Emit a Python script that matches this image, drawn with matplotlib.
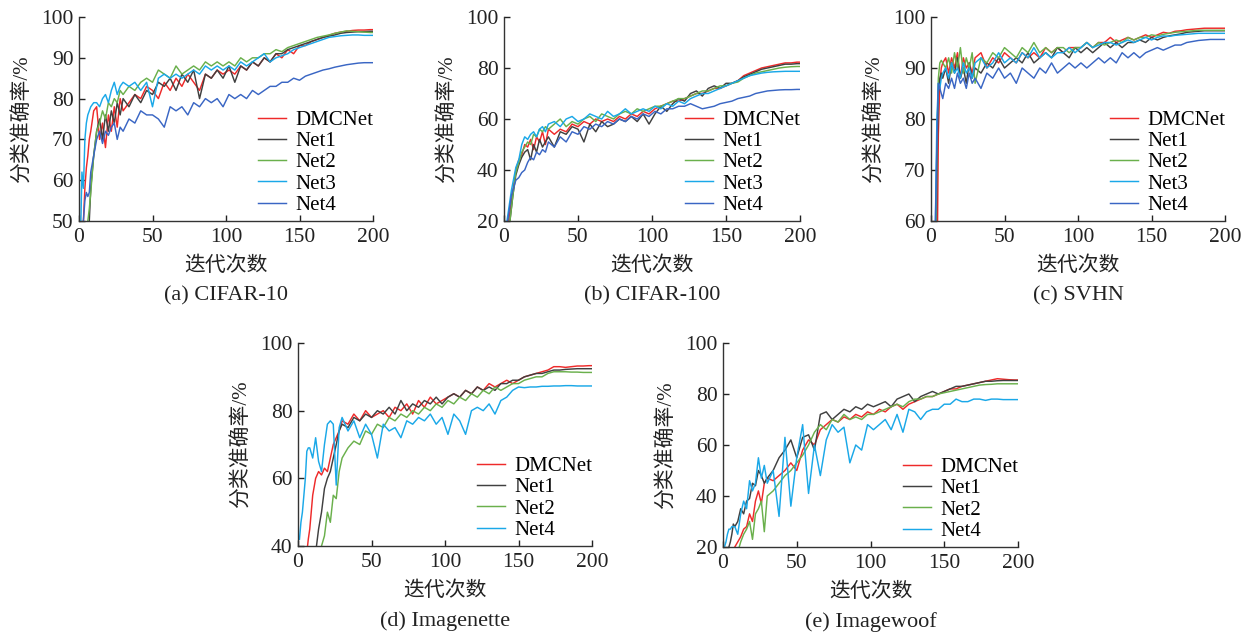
import matplotlib
matplotlib.use("Agg")
import matplotlib.pyplot as plt

plt.rcParams['font.family'] = ['Liberation Serif', 'Noto Sans CJK SC', 'DejaVu Sans']
plt.rcParams['axes.unicode_minus'] = False

epochs = (list(range(1, 9)) + list(range(10, 31, 2)) + list(range(34, 99, 4))
          + list(range(102, 199, 4)) + [200])

# ---------------- (a) CIFAR-10 ----------------
a_dmcnet = [40, 45, 50, 58, 63, 66, 70, 72,
            77, 78, 70, 74, 68, 76, 72, 78, 73, 80, 77,
            79, 81, 80, 83, 82, 80, 84, 82, 85, 83, 86, 84, 82, 86, 85, 87, 86,
            87, 86, 88, 87, 89, 88, 90, 89, 91, 90, 92, 91, 93, 93, 94, 94.5, 95, 95.5, 96, 96.3, 96.5, 96.7, 96.8, 96.8, 96.9,
            96.9]
a_net1 = [30, 35, 40, 44, 46, 48, 50, 58,
          66, 72, 75, 70, 76, 72, 77, 74, 79, 76, 80,
          78, 81, 79, 82, 81, 84, 83, 85, 82, 86, 84, 87, 80, 86, 85, 87, 85,
          88, 84, 88, 87, 89, 88, 90, 89, 91, 91, 92, 92.5, 93, 93.5, 94, 94.5, 95, 95.3, 95.6, 96, 96.2, 96.3, 96.4, 96.4, 96.5,
          96.5]
a_net2 = [30, 35, 40, 45, 48, 50, 53, 57,
          66, 72, 74, 77, 75, 79, 78, 80, 79, 82, 81,
          83, 82, 84, 85, 84, 87, 86, 85, 88, 86, 87, 88, 87, 89, 88, 89, 88,
          89, 88, 90, 89, 90, 90, 91, 91, 92, 91.5, 92.5, 93, 93.5, 94, 94.5, 95, 95.3, 95.6, 96, 96.3, 96.6, 96.5, 96.4, 96.3, 96.2,
          96.2]
a_net3 = [45, 62, 58, 70, 74, 76, 77, 78,
          79, 79, 78, 80, 81, 79, 82, 84, 81, 83, 84,
          83, 84, 82, 84, 78, 85, 86, 85, 86, 85, 86, 87, 86, 88, 87, 88, 87,
          88, 87, 89, 88, 89, 90, 91, 89, 90, 90.5, 91, 92, 92.5, 93, 93.5, 94, 94.5, 95, 95.2, 95.4, 95.5, 95.6, 95.6, 95.5, 95.5,
          95.5]
a_net4 = [40, 45, 50, 55, 57, 56, 57, 62,
          66, 70, 72, 69, 72, 71, 73, 74, 70, 73, 72,
          75, 74, 77, 76, 76, 75, 73, 78, 77, 78, 76, 79, 78, 80, 79, 80, 78,
          81, 80, 81, 80, 82, 81, 82, 83, 83, 84, 84, 85, 84.5, 85.5, 86, 86.5, 87, 87.3, 87.7, 88, 88.3, 88.5, 88.7, 88.8, 88.8,
          88.8]

# ---------------- (b) CIFAR-100 ----------------
b_dmcnet = [10, 15, 20, 24, 28, 32, 36, 40,
            44, 46, 50, 49, 52, 48, 53, 51, 55, 50, 56,
            54, 56, 55, 58, 57, 59, 58, 60, 59, 60, 59, 61, 60, 62, 61, 63, 62,
            64, 65, 66, 67, 67, 68, 69, 70, 70, 71, 72, 72, 73, 74, 75, 77, 78, 79, 80, 80.5, 81, 81.5, 82, 82, 82.3,
            82.3]
b_net1 = [8, 12, 16, 20, 25, 30, 34, 38,
          42, 45, 47, 48, 44, 50, 47, 52, 49, 51, 53,
          49, 55, 54, 57, 56, 51, 58, 55, 59, 57, 58, 60, 59, 61, 59, 62, 58,
          62, 65, 63, 66, 68, 67, 70, 71, 69, 72, 73, 72, 74, 74, 75, 76.5, 77.5, 78.5, 79.5, 80, 80.5, 81, 81.5, 81.5, 81.7,
          81.7]
b_net2 = [8, 12, 16, 20, 25, 30, 35, 39,
          43, 47, 49, 51, 50, 54, 53, 56, 55, 57, 56,
          58, 60, 57, 59, 58, 60, 61, 59, 62, 61, 60, 62, 63, 62, 64, 63, 64,
          65, 65, 66, 67, 68, 68, 69, 70, 71, 71, 72, 73, 73, 74, 74.5, 76, 77, 78, 78.5, 79, 79.5, 80, 80.3, 80.5, 80.6,
          80.6]
b_net3 = [15, 20, 24, 28, 32, 35, 38, 41,
          44, 50, 53, 52, 54, 55, 53, 56, 57, 55, 58,
          59, 57, 60, 61, 59, 60, 62, 61, 60, 63, 61, 62, 64, 62, 63, 64, 63,
          65, 64, 66, 65, 67, 66, 68, 69, 70, 70, 71, 72, 73, 74, 75, 76, 77, 77.5, 78, 78.3, 78.5, 78.6, 78.7, 78.7, 78.7,
          78.7]
b_net4 = [14, 18, 22, 26, 30, 32, 34, 36,
          37, 39, 40, 43, 45, 44, 47, 46, 48, 47, 51,
          49, 53, 51, 55, 54, 57, 56, 58, 57, 59, 58, 60, 59, 61, 60, 62, 61,
          63, 62, 64, 64, 65, 65, 66, 65, 64, 64.5, 65, 66, 66.5, 67, 68, 68.5, 69, 70, 70.5, 71, 71.2, 71.4, 71.5, 71.5, 71.6,
          71.6]

# ---------------- (c) SVHN ----------------
c_dmcnet = [30, 35, 40, 45, 77, 87, 90, 91,
            92, 89, 92, 90, 93, 88, 92, 90, 91, 89, 92,
            93, 90, 92, 91, 93, 92, 91, 93, 92, 93, 92, 94, 93, 94, 93, 94, 94,
            94, 95, 94, 95, 95, 96, 95, 95.5, 96, 95.5, 96, 96.5, 96, 96.5, 97, 96.8, 97.2, 97.3, 97.5, 97.6, 97.7, 97.8, 97.8, 97.8, 97.8,
            97.8]
c_net1 = [30, 35, 40, 70, 85, 88, 89, 88,
          90, 87, 91, 89, 92, 88, 90, 87, 91, 88, 90,
          89, 91, 90, 92, 90, 91, 92, 91, 93, 91, 92, 93, 92, 94, 93, 92, 94,
          93, 94, 93, 94, 95, 94, 95, 94, 95, 95, 95.5, 95, 96, 95.5, 96, 96.3, 96.5, 96.7, 97, 97.1, 97.2, 97.3, 97.3, 97.3, 97.3,
          97.3]
c_net2 = [30, 35, 50, 75, 88, 91, 91.5, 91,
          90, 92, 89, 93, 90, 94, 89, 92, 90, 93, 87,
          92, 91, 93, 92, 94, 93, 92, 94, 93, 95, 93, 94, 93, 94, 94, 93, 94,
          94, 95, 94, 95, 94.5, 95, 95.5, 95, 96, 95.5, 96, 96, 96.5, 96.3, 96.6, 96.8, 97, 97.1, 97.2, 97.3, 97.4, 97.4, 97.4, 97.4, 97.4,
          97.4]
c_net3 = [30, 40, 60, 80, 87, 86, 88, 89,
          90, 88, 91, 89, 90, 88, 91, 89, 90, 88, 91,
          92, 90, 91, 93, 91, 92, 91, 93, 92, 94, 92, 93, 92, 93, 93, 94, 93,
          94, 95, 94, 94.5, 95, 95, 94.5, 95, 95.5, 95, 95.5, 96, 95.5, 96, 96.3, 96.2, 96.4, 96.5, 96.6, 96.7, 96.8, 96.8, 96.8, 96.8, 96.8,
          96.8]
c_net4 = [30, 40, 60, 75, 87, 86, 85, 84,
          87, 86, 88, 86, 89, 87, 88, 86, 89, 87, 88,
          86, 89, 88, 90, 88, 89, 87, 90, 89, 88, 90, 89, 91, 89, 90, 91, 90,
          91, 90, 91, 92, 91, 92, 91, 93, 92, 93, 92, 93, 93.5, 94, 93.5, 94, 94.5, 94.5, 95, 95.2, 95.4, 95.5, 95.6, 95.6, 95.6,
          95.6]

# ---------------- (d) Imagenette ----------------
d_dmcnet = [20, 25, 30, 33, 36, 38, 42, 45,
            55, 60, 62, 61, 63, 62, 66, 70, 72, 74, 77,
            76, 79, 77, 80, 78, 79, 80, 78, 81, 80, 82, 79, 83, 81, 84, 82, 83,
            84, 85, 84, 86, 85, 87, 86, 88, 87, 88, 89, 88, 89, 90, 90.5, 91, 91.5, 92, 93, 93, 92.8, 93, 93.2, 93.2, 93.3,
            93.3]
d_net1 = [10, 12, 15, 17, 20, 23, 26, 29,
          34, 38, 45, 50, 57, 60, 62, 66, 70, 74, 76,
          75, 78, 77, 79, 78, 80, 79, 81, 79, 83, 80, 82, 81, 83, 82, 84, 82,
          84, 85, 84, 86, 85, 87, 86, 87, 86, 88, 88, 89, 89, 90, 90.5, 91, 91, 91.5, 92, 92, 92.2, 92.3, 92.4, 92.4, 92.4,
          92.4]
d_net2 = [10, 12, 14, 16, 18, 20, 22, 24,
          30, 33, 36, 40, 43, 50, 47, 55, 54, 62, 66,
          69, 71, 70, 74, 73, 76, 75, 78, 77, 79, 78, 80, 79, 81, 80, 82, 81,
          83, 82, 84, 83, 85, 84, 86, 85, 87, 86, 87, 88, 88, 89, 89.5, 90, 90, 91, 91.5, 91.5, 91.5, 91.4, 91.4, 91.3, 91.3,
          91.3]
d_net4 = [42, 47, 50, 55, 60, 68, 69, 69,
          66, 72, 65, 62, 70, 76, 77, 76, 58, 75, 78,
          74, 77, 72, 76, 73, 66, 76, 74, 75, 72, 77, 76, 78, 77, 79, 76, 78,
          73, 79, 77, 73, 80, 81, 80, 82, 79, 83, 84, 86, 87, 86.8, 87, 87, 87.2, 87.2, 87.3, 87.3, 87.4, 87.4, 87.3, 87.3, 87.3,
          87.3]

# ---------------- (e) Imagewoof ----------------
e_dmcnet = [10, 12, 14, 16, 17, 18, 19, 20,
            22, 24, 27, 28, 33, 30, 38, 42, 37, 45, 47,
            46, 48, 50, 53, 50, 58, 62, 60, 66, 68, 70, 69, 71, 70, 72, 71, 73,
            72, 74, 73, 75, 76, 74, 76, 77, 78, 79, 79, 80, 81, 82, 82, 83, 83.5, 84, 84.5, 85, 85.5, 86, 85.8, 85.6, 85.5,
            85.5]
e_net1 = [15, 18, 19, 20, 22, 25, 29, 28,
          30, 35, 33, 38, 39, 45, 44, 50, 48, 45, 47,
          50, 55, 58, 62, 55, 63, 64, 58, 72, 73, 70, 72, 74, 73, 75, 74, 76,
          75, 76, 77, 75, 78, 79, 80, 77, 79, 80, 81, 80, 81, 82, 83, 83, 83.5, 84, 84.5, 85, 85, 85.2, 85.3, 85.3, 85.3,
          85.3]
e_net2 = [5, 7, 9, 11, 12, 14, 15, 16,
          18, 22, 25, 27, 30, 23, 33, 35, 38, 26, 40,
          42, 45, 48, 50, 53, 56, 60, 65, 68, 66, 70, 69, 72, 70, 71, 70, 72,
          72, 73, 74, 75, 76, 75, 77, 78, 78, 79, 79, 80, 80.5, 81, 81.5, 82, 82.5, 83, 83.5, 83.7, 83.8, 84, 84, 84, 84,
          84]
e_net4 = [20, 22, 25, 27, 27, 28, 28, 28,
          25, 33, 38, 35, 46, 42, 45, 55, 47, 52, 45,
          50, 32, 63, 36, 55, 68, 41, 60, 48, 62, 68, 65, 67, 53, 60, 58, 68,
          66, 68, 70, 66, 72, 65, 74, 73, 70, 73, 74, 74, 76, 76, 78, 77, 77, 78, 78, 77.5, 78, 78, 77.8, 77.8, 77.8,
          77.8]

labels5 = ['DMCNet', 'Net1', 'Net2', 'Net3', 'Net4']
labels4 = ['DMCNet', 'Net1', 'Net2', 'Net4']
colors5 = ['#ee2a2a', '#404040', '#6ab04c', '#1aa8e8', '#3a66c4']
colors4 = ['#ee2a2a', '#404040', '#6ab04c', '#1aa8e8']

panels = [
    ('(a) CIFAR-10', [a_dmcnet, a_net1, a_net2, a_net3, a_net4], labels5, colors5, (50, 100), [50, 60, 70, 80, 90, 100], (79, 17, 373, 221)),
    ('(b) CIFAR-100', [b_dmcnet, b_net1, b_net2, b_net3, b_net4], labels5, colors5, (20, 100), [20, 40, 60, 80, 100], (504, 17, 800, 221)),
    ('(c) SVHN', [c_dmcnet, c_net1, c_net2, c_net3, c_net4], labels5, colors5, (60, 100), [60, 70, 80, 90, 100], (931, 17, 1225, 221)),
    ('(d) Imagenette', [d_dmcnet, d_net1, d_net2, d_net4], labels4, colors4, (40, 100), [40, 60, 80, 100], (298, 343, 592, 546)),
    ('(e) Imagewoof', [e_dmcnet, e_net1, e_net2, e_net4], labels4, colors4, (20, 100), [20, 40, 60, 80, 100], (723, 343, 1018, 547)),
]

W, H = 1249, 635
fig = plt.figure(figsize=(W / 100, H / 100), dpi=100)
FS_TICK = 15.5
FS_LEG = 15
FS_CJK = 15
FS_CAP = 16

for caption, series, labels, colors, ylim, yticks, (x0, y0, x1, y1) in panels:
    ax = fig.add_axes([x0 / W, 1 - y1 / H, (x1 - x0) / W, (y1 - y0) / H])
    for ys, lab, col in zip(series, labels, colors):
        assert len(ys) == len(epochs), (caption, lab, len(ys))
        ax.plot(epochs, ys, color=col, lw=1.05, label=lab)
    ax.set_xlim(0, 200)
    ax.set_ylim(*ylim)
    ax.set_xticks([0, 50, 100, 150, 200])
    ax.set_yticks(yticks)
    ax.spines['top'].set_visible(False)
    ax.spines['right'].set_visible(False)
    for s in ('left', 'bottom'):
        ax.spines[s].set_linewidth(1.0)
        ax.spines[s].set_color('#333333')
    ax.tick_params(direction='in', length=4, width=1.0, labelsize=FS_TICK, colors='#222222')
    ax.tick_params(axis='x', pad=5)
    ax.tick_params(axis='y', pad=4)
    ax.legend(loc='lower right', bbox_to_anchor=(1.0, 0.03), frameon=False,
              fontsize=FS_LEG, handlelength=1.35, handletextpad=0.45,
              labelspacing=0.08, borderpad=0.0, borderaxespad=0.0)
    cx = (x0 + x1) / 2
    fig.text((x0 - 56) / W, 1 - ((y0 + y1) / 2) / H, '分类准确率/%', rotation=90,
             ha='center', va='center', fontsize=FS_CJK, color='#222222')
    fig.text(cx / W, 1 - (y1 + 45) / H, '迭代次数', ha='center', va='center',
             fontsize=FS_CJK, color='#222222')
    fig.text(cx / W, 1 - (y1 + 75) / H, caption, ha='center', va='center',
             fontsize=FS_CAP, color='#222222')

fig.savefig('out.png', dpi=100)
